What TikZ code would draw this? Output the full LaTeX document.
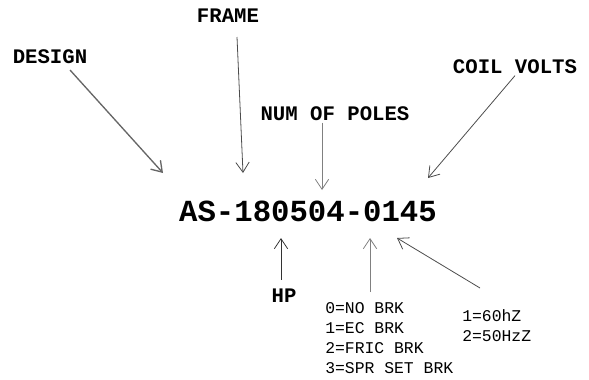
\documentclass[tikz,border=0pt]{standalone}
\usepackage{fontspec}
\setmonofont{Liberation Mono}
\usetikzlibrary{arrows.meta}
\begin{document}
\begin{tikzpicture}
            [x=0.75pt,y=-0.75pt,
             Label/.style={font=\ttfamily\bfseries\fontsize{15.5}{18}\selectfont,inner sep=1pt},
             Code/.style={font=\ttfamily\bfseries\fontsize{23}{26}\selectfont,inner sep=1pt},
             Key/.style={font=\ttfamily\fontsize{12.3}{15}\selectfont,align=left,inner sep=0pt,anchor=north west},
             Pointer/.style={draw=black!70,line width=0.6pt,-{Straight Barb[length=7.5pt,width=10pt]}}];
            \useasboundingbox (0,0) rectangle (589,379);
            \node[Label] (design) at (50,57) {DESIGN};
            \node[Label] (frame) at (228,16) {FRAME};
            \node[Label] (poles) at (335,114) {NUM OF POLES};
            \node[Label] (volts) at (515,67) {COIL VOLTS};
            \node[Code] (part) at (308,211) {AS-180504-0145};
            \node[Label] (hp) at (284,296) {HP};
            \node[Key] (brake) at (325,302) {0=NO BRK\\1=EC BRK\\2=FRIC BRK\\3=SPR SET BRK};
            \node[Key] (hz) at (462,309) {1=60hZ\\2=50HzZ};
            % arrow ends
            \coordinate (designTail) at (70,70);
            \coordinate (designTip) at (163,173);
            \coordinate (frameTail) at (237,37);
            \coordinate (frameTip) at (243,173);
            \coordinate (polesTip) at (322,190);
            \coordinate (voltsTip) at (428,178);
            \coordinate (hpTip) at (281,238);
            \coordinate (brakeTip) at (370,238);
            \coordinate (hzTail) at (480,288);
            \coordinate (hzTip) at (397,238);
            \draw [Pointer,line width=1pt,draw=black!60] (designTail) -- (designTip);
            \draw [Pointer] (frameTail) -- (frameTip);
            \draw [Pointer,draw=black!50] (poles.south -| polesTip) -- (polesTip);
            \draw [Pointer] (volts.south) -- (voltsTip);
            \draw [Pointer,draw=black!80,shorten <=6pt] (hp.north -| hpTip) -- (hpTip);
            \draw [Pointer,draw=black!50,shorten <=7.5pt] (brake.north -| brakeTip) -- (brakeTip);
            \draw [Pointer] (hzTail) -- (hzTip);
        \end{tikzpicture}
\end{document}
